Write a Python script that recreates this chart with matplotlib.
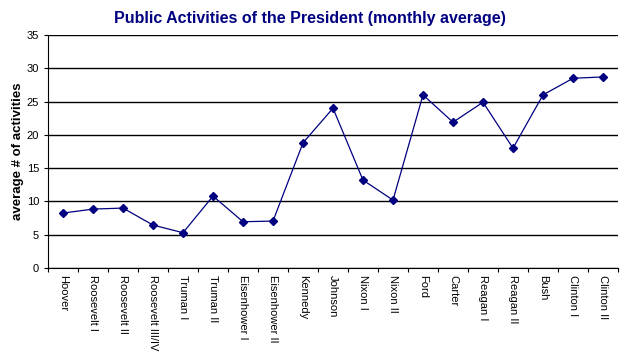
import matplotlib.pyplot as plt

presidents = ['Hoover', 'Roosevelt I', 'Roosevelt II', 'Roosevelt III/IV', 'Truman I',
              'Truman II', 'Eisenhower I', 'Eisenhower II', 'Kennedy', 'Johnson',
              'Nixon I', 'Nixon II', 'Ford', 'Carter', 'Reagan I', 'Reagan II',
              'Bush', 'Clinton I', 'Clinton II']
activities = [8.25, 8.85, 9.0, 6.45, 5.3, 10.8, 6.95, 7.05, 18.8, 24.0,
              13.2, 10.2, 26.0, 21.9, 24.9, 18.0, 26.0, 28.5, 28.7]
yticks = [0, 5, 10, 15, 20, 25, 30, 35]

plt.rcParams['font.family'] = ['Liberation Sans', 'DejaVu Sans']

fig = plt.figure(figsize=(6.23, 3.56), dpi=100)
ax = fig.add_axes([48 / 623, 1 - 268 / 356, 570 / 623, 233 / 356])

x = list(range(len(presidents)))
ax.plot(x, activities, color='#000080', linewidth=0.9, marker='D', markersize=3.8,
        markerfacecolor='#000080', markeredgecolor='#000080')

ax.set_xlim(-0.5, len(presidents) - 0.5)
ax.set_ylim(0, 35)
ax.set_yticks(yticks)
ax.yaxis.grid(True, color='black', linewidth=1)
ax.set_axisbelow(True)
ax.set_xticks([i - 0.5 for i in range(len(presidents) + 1)], minor=False)
ax.set_xticklabels([])
ax.set_xticks(x, minor=True)
ax.set_xticklabels(presidents, minor=True, rotation=270, fontsize=8, va='top')
ax.tick_params(axis='x', which='minor', length=0, pad=5)
ax.tick_params(axis='x', which='major', length=3, direction='out')
ax.tick_params(axis='y', labelsize=8, length=3)

for s in ['top', 'right']:
    ax.spines[s].set_visible(False)

ax.set_ylabel('average # of activities', fontsize=9.5, fontweight='bold', labelpad=2)
fig.text(0.498, 0.948, 'Public Activities of the President (monthly average)',
         ha='center', va='center', fontsize=11.5, fontweight='bold', color='#000080')

fig.savefig('out.png', dpi=100)
